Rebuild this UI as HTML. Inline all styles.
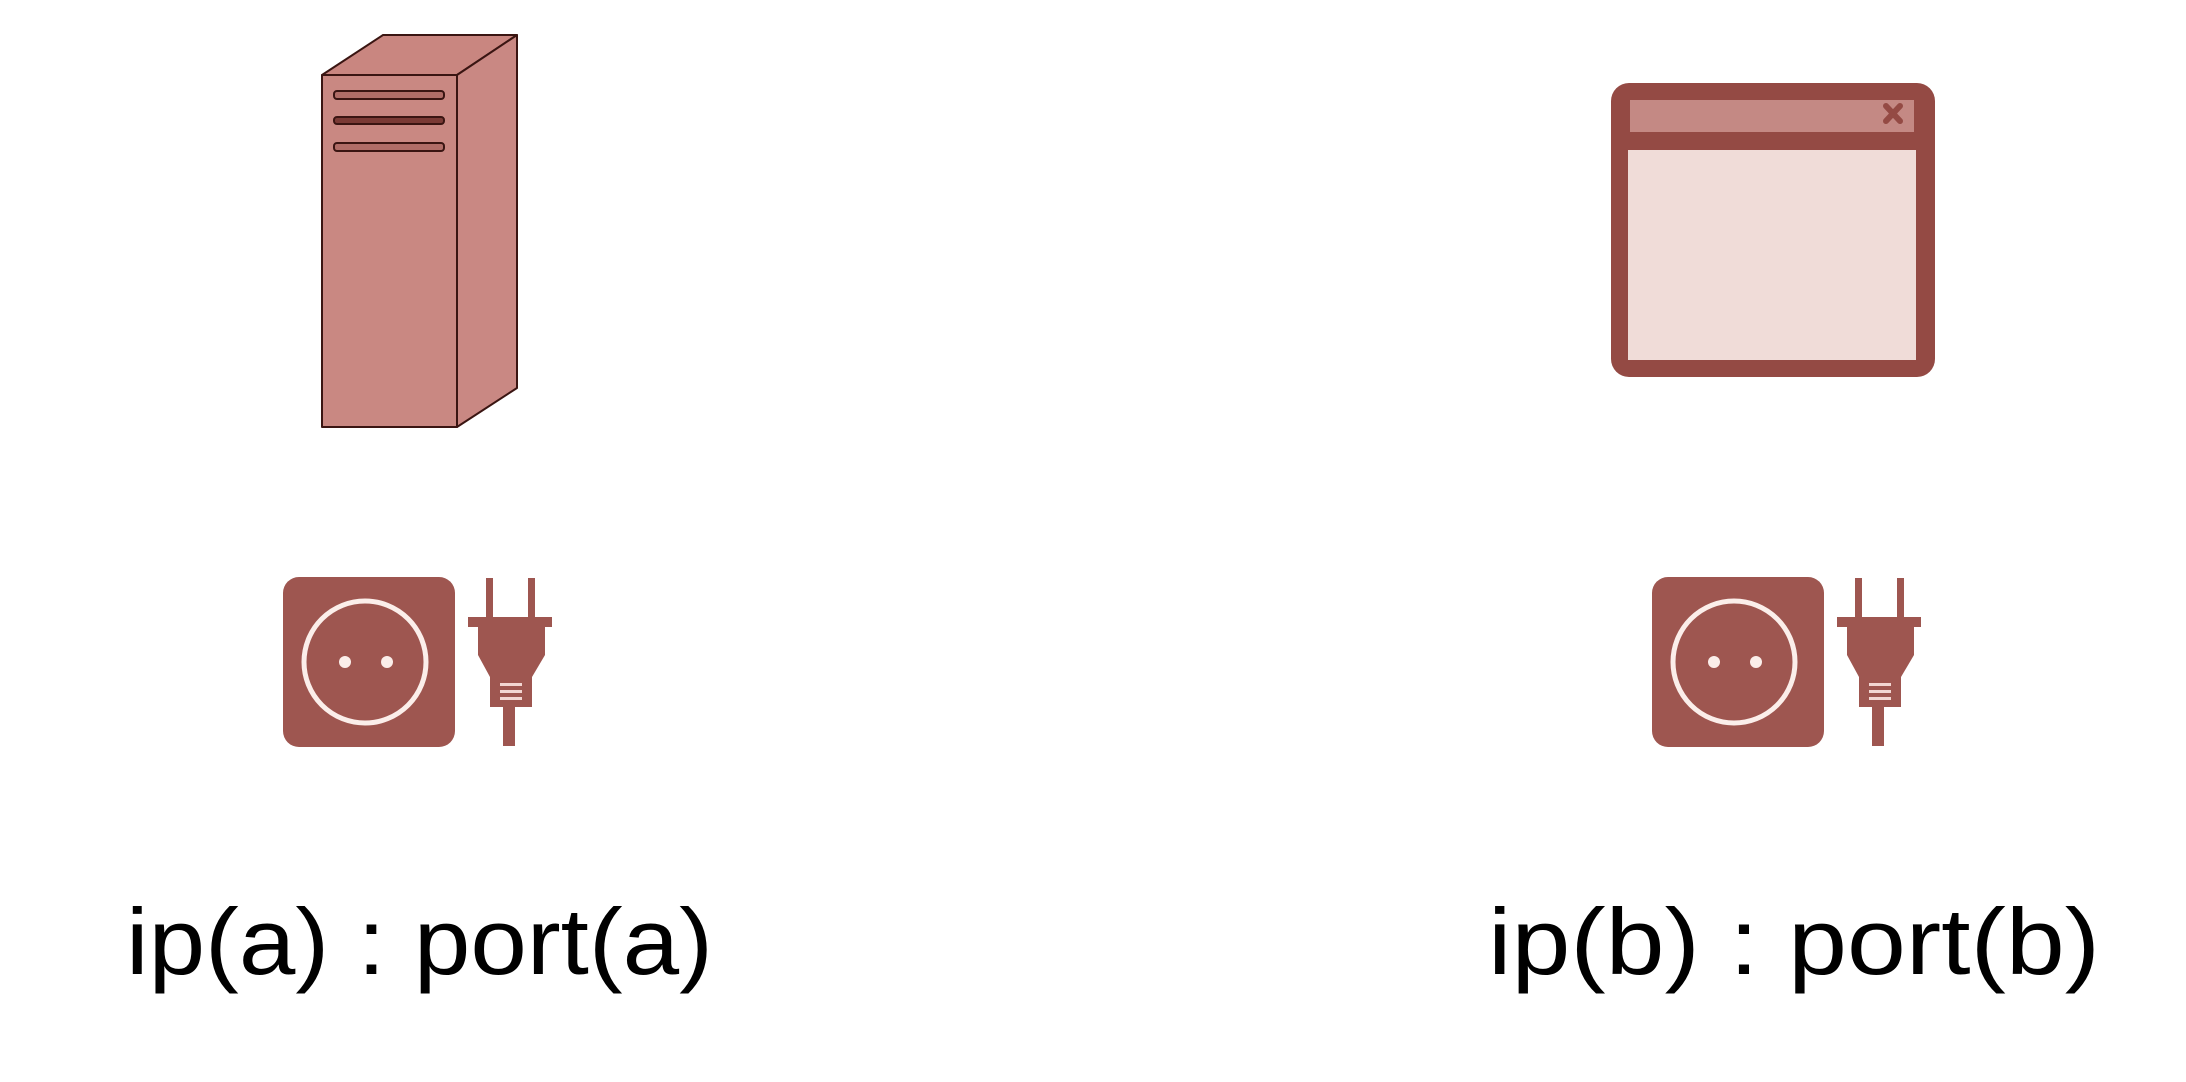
<!DOCTYPE html>
<html><head><meta charset="utf-8"><style>
html,body{margin:0;padding:0;background:#fff;}
svg{display:block;}
</style></head><body>
<svg width="2186" height="1082" viewBox="0 0 2186 1082" xmlns="http://www.w3.org/2000/svg">
<rect width="2186" height="1082" fill="#fff"/>
<g stroke="#3a1512" stroke-width="2" stroke-linejoin="round">
<polygon points="322,75 383,35 517,35 457,75" fill="#c98680"/>
<polygon points="457,75 517,35 517,388 457,427" fill="#c98883"/>
<rect x="322" y="75" width="135" height="352" fill="#c98882"/>
</g>
<g fill="#b06d67" stroke="#3a1512" stroke-width="2">
<rect x="334" y="91" width="110" height="8" rx="3"/>
<rect x="334" y="117" width="110" height="7" rx="3" fill="#7a3a35"/>
<rect x="334" y="143" width="110" height="8" rx="3"/>
</g>
<rect x="1611" y="83" width="324" height="294" rx="18" fill="#944a44"/>
<rect x="1630" y="100" width="284" height="32" fill="#c48984"/>
<rect x="1628" y="150" width="288" height="210" fill="#f0dcd8"/>
<g stroke="#944a44" stroke-width="6" stroke-linecap="round">
<line x1="1886" y1="106" x2="1900" y2="121"/><line x1="1900" y1="106" x2="1886" y2="121"/>
</g>
<g id="sp" fill="#9e5650">
<rect x="283" y="577" width="172" height="170" rx="16"/>
<circle cx="365" cy="662" r="61" fill="none" stroke="#fbeeea" stroke-width="5"/>
<circle cx="345" cy="662" r="6" fill="#fbeeea"/>
<circle cx="387" cy="662" r="6" fill="#fbeeea"/>
<rect x="486" y="578" width="7" height="42"/>
<rect x="528" y="578" width="7" height="42"/>
<rect x="468" y="617" width="84" height="10"/>
<polygon points="478,627 545,627 545,655 532,677 532,707 490,707 490,677 478,655"/>
<rect x="503" y="705" width="12" height="41"/>
<g fill="#f2d6d2"><rect x="500" y="683" width="22" height="3"/><rect x="500" y="690" width="22" height="3"/><rect x="500" y="697" width="22" height="3"/></g>
</g>
<use href="#sp" transform="translate(1369,0)"/>
<g font-family="'Liberation Sans', sans-serif" font-size="94" fill="#000">
<text x="126" y="974" textLength="587" lengthAdjust="spacingAndGlyphs">ip(a) : port(a)</text>
<text x="1488" y="974" textLength="612" lengthAdjust="spacingAndGlyphs">ip(b) : port(b)</text>
</g>
</svg>
</body></html>
